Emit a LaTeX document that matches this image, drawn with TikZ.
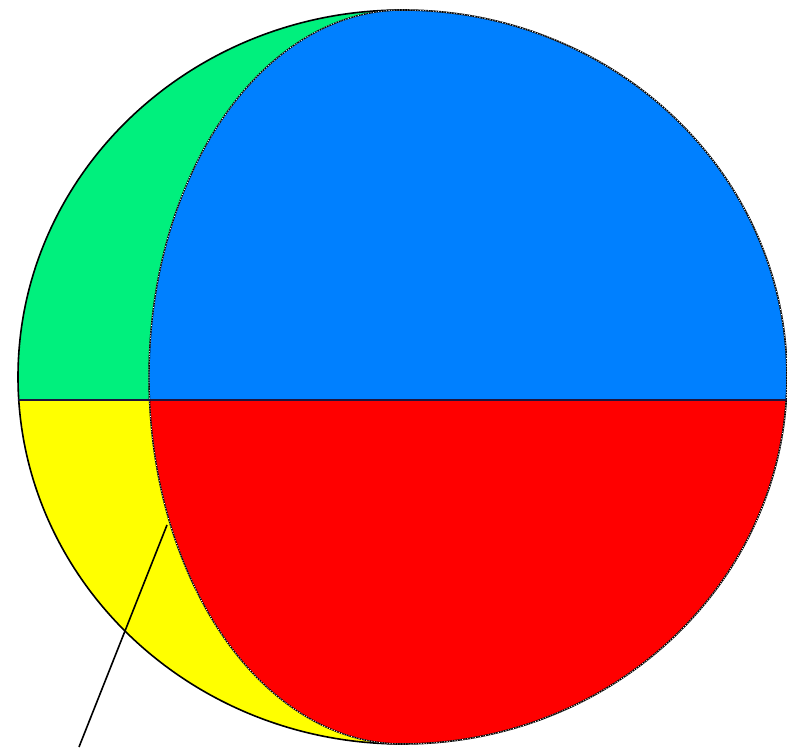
\documentclass[tikz,border=0pt]{standalone}
\definecolor{capgreen}{RGB}{0,240,125}
\definecolor{capblue}{RGB}{0,128,255}
\definecolor{capyellow}{RGB}{255,255,0}
\definecolor{capred}{RGB}{255,0,0}
\definecolor{seamline}{RGB}{30,20,60}
\begin{document}
\begin{tikzpicture}[x=1pt, y=1pt,
  rim/.style={draw=black, line width=1.6pt},
  seam/.style={draw=white, line width=0.7pt, dash pattern=on 1pt off 1.6pt},
  equator/.style={draw=seamline, line width=2.2pt},
  pointer/.style={draw=black, line width=1.6pt}
]
\useasboundingbox (0,0) rectangle (787,747);
\coordinate (c) at (402.5,370);
\coordinate (top) at (402.5,737);
% upper half
\begin{scope}
  \clip (0,347) rectangle (787,747);
  \fill[capgreen] (c) ellipse [x radius=384.5, y radius=367];
  \fill[capblue] (top) arc[start angle=90, end angle=270, x radius=253.5, y radius=367]
    arc[start angle=-90, end angle=90, x radius=384.5, y radius=367] -- cycle;
\end{scope}
% lower half
\begin{scope}
  \clip (0,0) rectangle (787,347);
  \fill[capyellow] (c) ellipse [x radius=384.5, y radius=367];
  \fill[capred] (top) arc[start angle=90, end angle=270, x radius=253.5, y radius=367]
    arc[start angle=-90, end angle=90, x radius=384.5, y radius=367] -- cycle;
\end{scope}
% outlines
\draw[rim] (c) ellipse [x radius=384.5, y radius=367];
\draw[rim, line width=1.4pt] (top) arc[start angle=90, end angle=270, x radius=253.5, y radius=367];
\draw[seam] (top) arc[start angle=90, end angle=270, x radius=253.5, y radius=367];
\draw[seam] (402.5,3) arc[start angle=-90, end angle=90, x radius=384.5, y radius=367];
\coordinate (westpt) at (18,347);
\coordinate (eastpt) at (787,347);
\draw[equator] (westpt) -- (eastpt);
% pointer line
\coordinate (tip) at (167,222);
\coordinate (tail) at (79,0);
\draw[pointer] (tip) -- (tail);
\end{tikzpicture}
\end{document}
